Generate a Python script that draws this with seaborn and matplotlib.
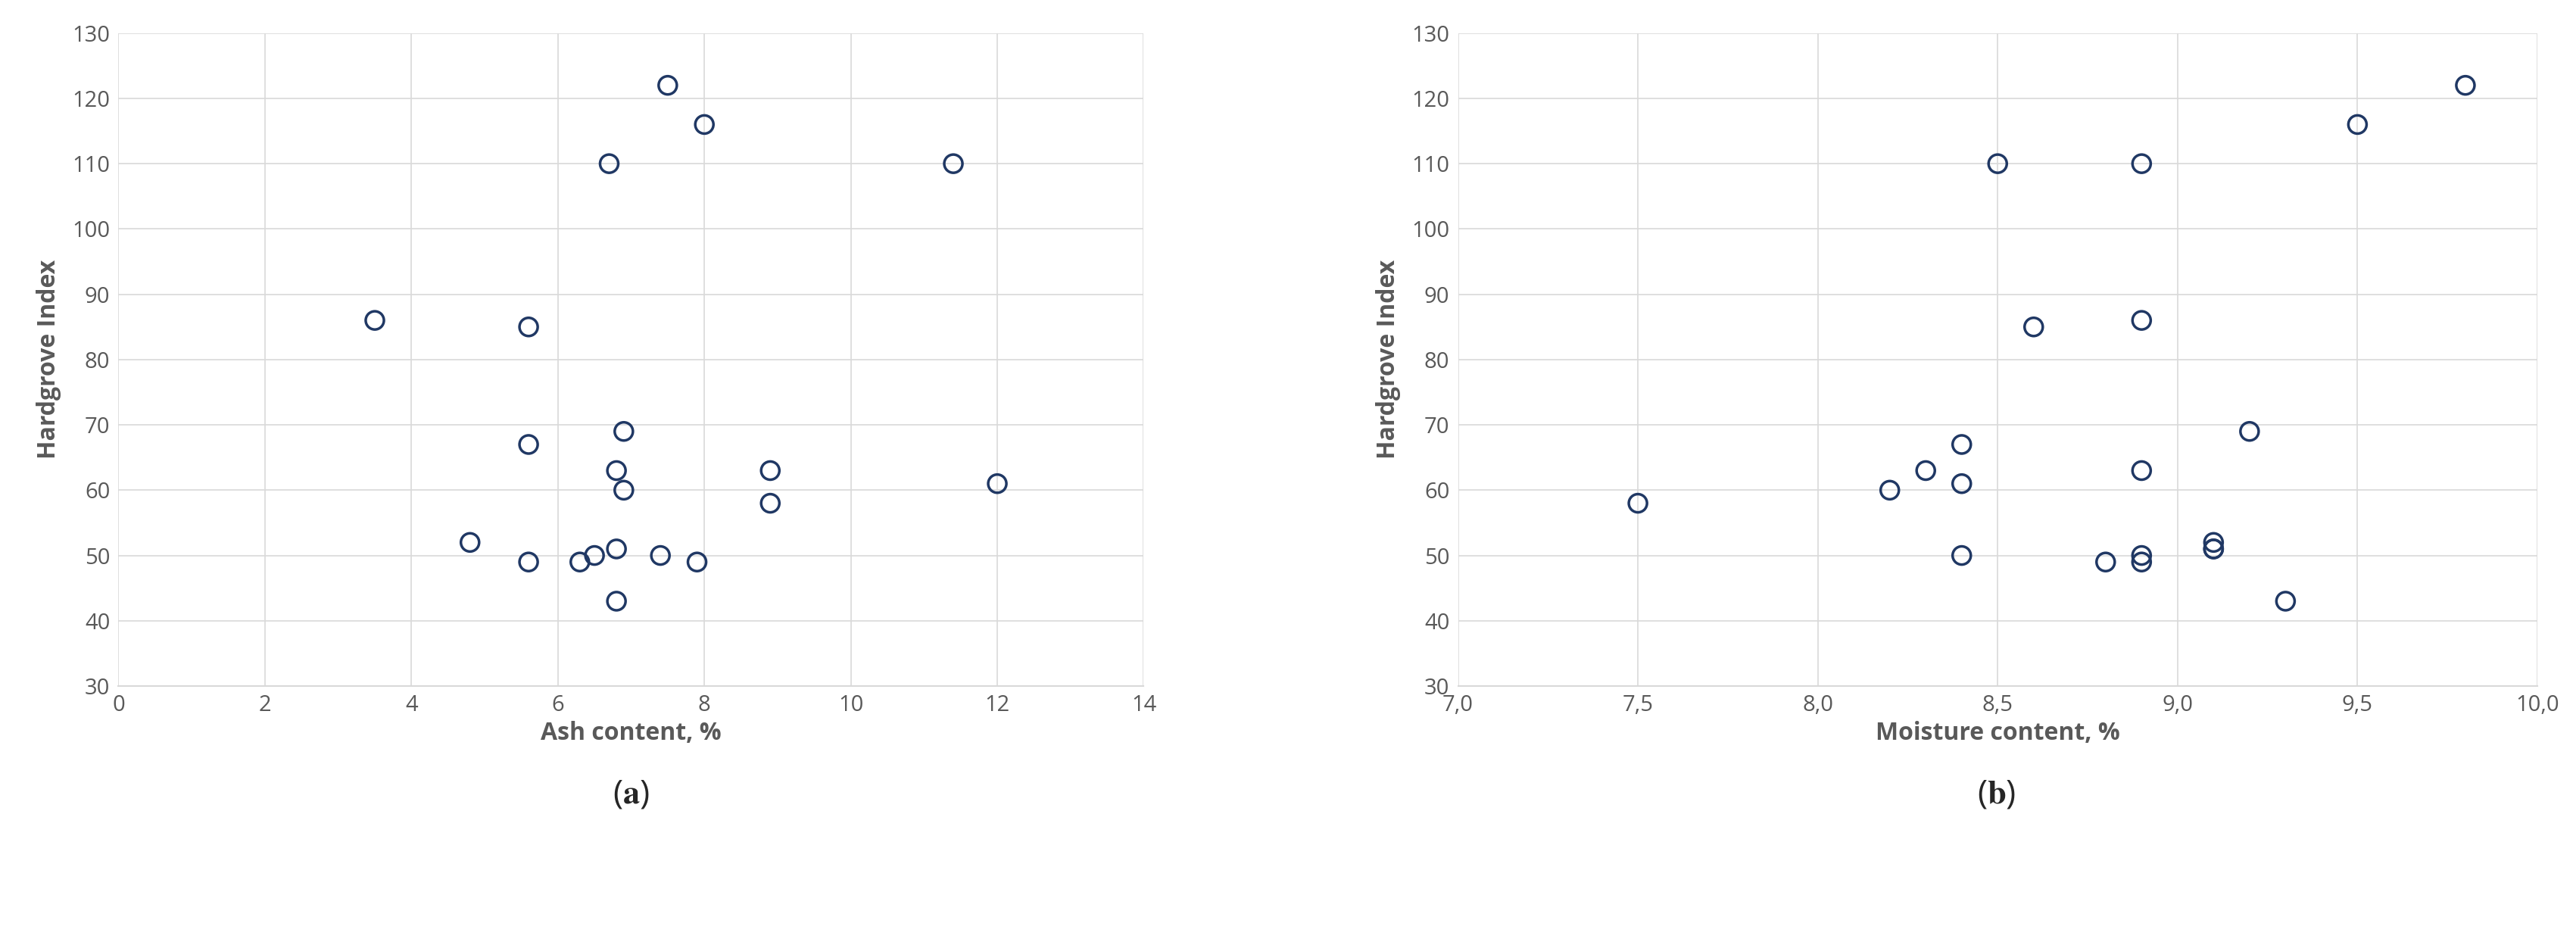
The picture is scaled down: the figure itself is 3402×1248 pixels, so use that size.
import matplotlib
matplotlib.use("Agg")
import matplotlib.pyplot as plt
import numpy as np
import pandas as pd
import seaborn as sns

_NAVY = "#203864"
_GRID = "#D9D9D9"
_TXT = "#595959"

ash = [3.5, 5.6, 7.5, 8.0, 6.7, 11.4, 5.6, 6.9, 6.8, 6.9, 8.9, 8.9, 12.0,
       4.8, 5.6, 6.3, 6.5, 6.8, 7.4, 7.9, 6.8]
hgi_a = [86, 85, 122, 116, 110, 110, 67, 69, 63, 60, 63, 58, 61,
         52, 49, 49, 50, 51, 50, 49, 43]

moisture = [7.5, 8.2, 8.3, 8.4, 8.4, 8.4, 8.5, 8.6, 8.8, 8.9, 8.9, 8.9,
            8.9, 8.9, 9.1, 9.1, 9.2, 9.3, 9.5, 9.8, 9.1]
hgi_b = [58, 60, 63, 67, 61, 50, 110, 85, 49, 110, 86, 63,
         50, 49, 52, 51, 69, 43, 116, 122, 51]

sns.set_theme(style="white")
plt.rcParams["font.family"] = ["Open Sans", "DejaVu Sans"]
plt.rcParams["mathtext.fontset"] = "stix"

fig = plt.figure(figsize=(34.02, 12.48), dpi=100)
ax1 = fig.add_axes([0.046, 0.274, 0.398, 0.691])
ax2 = fig.add_axes([0.566, 0.274, 0.419, 0.691])

panels = [
    (ax1, ash, hgi_a, "Ash content, %", (0, 14), np.arange(0, 15, 2), "a", 0.245),
    (ax2, moisture, hgi_b, "Moisture content, %", (7.0, 10.0), np.arange(7.0, 10.01, 0.5), "b", 0.775),
]

for ax, x, y, xlabel, xlim, xticks, tag, tx in panels:
    df = pd.DataFrame({"x": x, "y": y})
    sns.scatterplot(data=df, x="x", y="y", ax=ax, s=300, facecolor="none",
                    edgecolor=_NAVY, linewidth=2.5, zorder=3)
    ax.set_xlim(*xlim)
    ax.set_ylim(30, 130)
    ax.set_xticks(xticks)
    ax.set_yticks(np.arange(30, 131, 10))
    if xlim[0] == 7.0:
        ax.set_xticklabels([f"{v:.1f}".replace(".", ",") for v in xticks])
    ax.grid(True, color=_GRID, lw=1.2)
    for name, sp in ax.spines.items():
        sp.set_visible(name == "bottom")
    ax.spines["bottom"].set_color(_GRID)
    ax.spines["bottom"].set_linewidth(1.5)
    ax.tick_params(labelsize=21, colors=_TXT, length=0, pad=8)
    ax.set_xlabel(xlabel, fontsize=23, fontweight="bold", color=_TXT, labelpad=4)
    ax.set_ylabel("Hardgrove Index", fontsize=23, fontweight="bold", color=_TXT, labelpad=10)
    fig.text(tx, 0.15, rf"($\mathbf{{{tag}}}$)", fontsize=32, ha="center")

fig.savefig("out.png", dpi=100)
